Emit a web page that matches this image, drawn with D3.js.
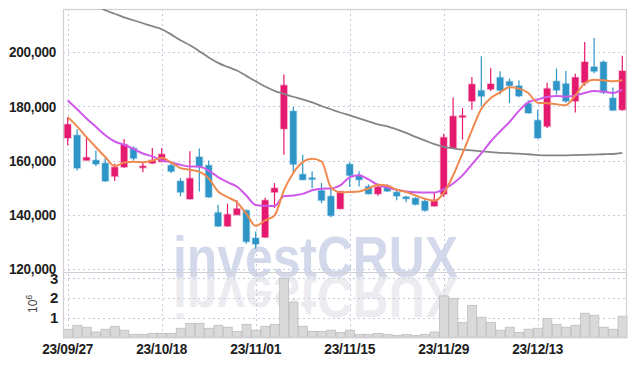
<!DOCTYPE html>
<html><head><meta charset="utf-8">
<script src="https://cdn.jsdelivr.net/npm/d3@7"></script>
<style>body{margin:0;background:#fff}svg{display:block}</style>
</head><body><svg id="c" width="636" height="366"></svg>
<script>
const dates = ["23/09/27","23/10/04","23/10/05","23/10/06","23/10/10","23/10/11","23/10/12","23/10/13","23/10/16","23/10/17","23/10/18","23/10/19","23/10/20","23/10/23","23/10/24","23/10/25","23/10/26","23/10/27","23/10/30","23/10/31","23/11/01","23/11/02","23/11/03","23/11/06","23/11/07","23/11/08","23/11/09","23/11/10","23/11/13","23/11/14","23/11/15","23/11/16","23/11/17","23/11/20","23/11/21","23/11/22","23/11/23","23/11/24","23/11/27","23/11/28","23/11/29","23/11/30","23/12/01","23/12/04","23/12/05","23/12/06","23/12/07","23/12/08","23/12/11","23/12/12","23/12/13","23/12/14","23/12/15","23/12/18","23/12/19","23/12/20","23/12/21","23/12/22","23/12/26","23/12/27"];
const openP = [168300,169300,160100,160100,159000,154200,157600,164500,157600,159000,159600,158200,152400,145800,161300,158200,140800,135800,140000,141600,131400,131700,148300,171700,178200,154900,153600,148900,146800,142200,158600,154500,150400,147700,150200,148300,146600,146100,145000,143200,147600,164600,176000,181900,185800,186300,190600,189100,187500,181000,174800,172600,189200,188300,181900,188700,194500,196300,183000,178700];
const highP = [175900,171500,168300,163700,161300,158800,167900,165200,159400,164600,164600,159700,153500,163400,164400,160000,143700,144100,145300,141900,133800,146300,151700,191700,179700,162100,156000,151700,149800,148800,159400,156000,151200,151400,151200,149000,146900,146400,145500,148300,169900,183200,179300,190800,198400,194100,192900,190200,189600,182200,178700,188700,193900,193000,192000,203700,205200,196900,186900,198600];
const lowP = [165600,156300,159900,157900,152200,152400,157200,160000,155700,158800,159400,155400,146800,145600,148600,146300,135500,135600,139800,129300,127500,131500,142500,162100,155700,152700,149800,144300,139100,142000,150200,150400,147500,147000,148500,145300,144600,143500,141200,143000,146500,164200,167700,178700,179900,185600,184300,181200,183300,177300,168000,172000,184300,181300,177700,187600,192200,184500,178300,178300];
const closeP = [173300,157200,161100,158700,152400,157500,165900,160800,157900,160100,162300,156000,148300,153400,157900,146500,135800,140100,142200,130100,129200,145300,149800,187700,158600,152900,153400,145300,139700,148600,154500,152900,147700,150200,148700,146900,145900,143800,141600,145300,168500,176300,176500,188100,183700,188200,185900,187600,183800,177500,168300,186500,185900,181900,190600,196300,192900,185100,178500,193000];
const volume = [410000,610000,510000,270000,410000,560000,360000,150000,150000,200000,200000,200000,460000,710000,710000,460000,610000,510000,300000,660000,360000,560000,660000,3000000,1780000,560000,300000,300000,360000,250000,360000,150000,150000,200000,150000,100000,150000,100000,150000,270000,2100000,1980000,760000,1620000,1020000,760000,360000,510000,250000,410000,460000,960000,660000,510000,610000,1220000,1120000,510000,410000,1070000];
const maShort = [176000,172600,168600,164900,161300,157900,159300,159500,159400,159900,161000,159300,157200,156600,155900,153400,148600,146500,144600,140400,135900,137900,139700,149000,155400,159400,160600,159700,150200,148300,148400,148600,149700,151100,150800,149200,148400,147100,145900,145200,148000,154500,162600,171100,179100,183000,185100,187000,186500,184900,181300,181100,180700,180400,184000,188500,189800,189600,189200,189600];
const maMid = [182200,178900,175500,172400,169300,167000,165800,164300,162600,161500,160100,159300,158400,157800,157700,156300,153900,152000,150400,147100,143600,143300,143200,146800,147100,147700,149000,149600,149700,150800,153800,154600,153000,151000,150000,149200,148600,148300,148200,148200,149400,151500,154500,158600,162600,167000,170700,174200,178300,181400,182500,183400,183800,183500,184000,184900,185600,185400,184900,186100];
const maLong = [221300,220000,218700,217200,215400,214100,212800,211700,210600,209500,208400,206500,204300,202500,200300,198000,196000,194500,193200,191200,189200,187300,185700,184600,183500,182500,181400,180100,178900,177700,176600,175500,174400,173300,172600,171500,170200,168700,167400,166000,165000,164500,164000,163700,163400,163100,162800,162700,162500,162300,162000,161900,161900,161900,162000,162100,162200,162300,162400,162800];
const priceTicks = [120000,140000,160000,180000,200000];
const volTicks = [1000000,2000000,3000000];
const dateLabels = ["23/09/27","23/10/18","23/11/01","23/11/15","23/11/29","23/12/13"];
const watermark = "investCRUX";

const L = 63, R = 627, T = 9, mainB = 271, volT = 272, volB = 337.3;
const FONT = "'Liberation Sans','Arial',sans-serif";
const UP = "#e5196e", DOWN = "#2e95c7";

const svg = d3.select("#c");
const x = d3.scaleBand().domain(dates).range([L, R]).padding(0);
const bw = x.bandwidth();
const cx = d => x(d) + bw / 2;
const y = d3.scaleLinear().domain([120000, 200000]).range([269, 52]);
const yv = d3.scaleLinear().domain([0, 3000000]).range([volB, 278.2]);

svg.append("defs").append("clipPath").attr("id", "mainClip")
  .append("rect").attr("x", L).attr("y", T).attr("width", R - L).attr("height", mainB - T);

// watermark + reflection
const wm = svg.append("g");
wm.append("text").attr("x", 173).attr("y", 277)
  .attr("font-family", FONT).attr("font-weight", "bold").attr("font-size", 58)
  .attr("textLength", 285).attr("lengthAdjust", "spacingAndGlyphs")
  .attr("fill", "#d3d8ea").text(watermark);
wm.append("text").attr("x", 173).attr("y", 277)
  .attr("transform", "translate(0,554) scale(1,-1)")
  .attr("font-family", FONT).attr("font-weight", "bold").attr("font-size", 58)
  .attr("textLength", 285).attr("lengthAdjust", "spacingAndGlyphs")
  .attr("fill", "#ebebf0").text(watermark);

// grid
const grid = svg.append("g").attr("stroke", "#c6cade").attr("stroke-dasharray", "2,3").attr("stroke-width", 1);
grid.selectAll(".hg").data(priceTicks).join("line")
  .attr("x1", L).attr("x2", R).attr("y1", d => Math.round(y(d)) + 0.5).attr("y2", d => Math.round(y(d)) + 0.5);
grid.selectAll(".vg").data(volTicks).join("line")
  .attr("x1", L).attr("x2", R).attr("y1", d => Math.round(yv(d)) + 0.5).attr("y2", d => Math.round(yv(d)) + 0.5);
grid.selectAll(".xg").data(dateLabels).join("line")
  .attr("x1", d => Math.round(cx(d)) + 0.5).attr("x2", d => Math.round(cx(d)) + 0.5)
  .attr("y1", T).attr("y2", volB);

// volume bars
svg.append("g").selectAll("rect").data(dates).join("rect")
  .attr("x", d => x(d) + 0.5).attr("width", bw - 0.5)
  .attr("y", (d, i) => yv(volume[i])).attr("height", (d, i) => volB - yv(volume[i]))
  .attr("fill", "#d9d9d9").attr("stroke", "#bdbdbd").attr("stroke-width", 0.8);

// frame
svg.append("rect").attr("x", L + 0.5).attr("y", T + 0.5).attr("width", R - L - 1).attr("height", volB - T)
  .attr("fill", "none").attr("stroke", "#cfcfd4").attr("stroke-width", 1.2);
svg.append("line").attr("x1", L).attr("x2", R).attr("y1", volT + 0.5).attr("y2", volT + 0.5)
  .attr("stroke", "#cfcfd4").attr("stroke-width", 1.2);

// candles
const main = svg.append("g").attr("clip-path", "url(#mainClip)");
const cg = main.append("g").selectAll("g").data(dates).join("g");
const col = i => closeP[i] >= openP[i] ? UP : DOWN;
cg.append("line")
  .attr("x1", d => cx(d)).attr("x2", d => cx(d))
  .attr("y1", (d, i) => y(highP[i])).attr("y2", (d, i) => y(lowP[i]))
  .attr("stroke", (d, i) => col(i)).attr("stroke-width", 1.2);
cg.append("rect")
  .attr("x", d => cx(d) - 3.2).attr("width", 6.4)
  .attr("y", (d, i) => Math.min(y(openP[i]), y(closeP[i])))
  .attr("height", (d, i) => Math.max(1.5, Math.abs(y(openP[i]) - y(closeP[i]))))
  .attr("fill", (d, i) => col(i)).attr("stroke", (d, i) => col(i))
  .attr("stroke-opacity", 0.3).attr("stroke-width", 1.6);

// moving averages
const lineGen = arr => d3.line().x(d => cx(d)).y((d, i) => y(arr[i])).curve(d3.curveMonotoneX)(dates);
main.append("path").attr("d", lineGen(maLong)).attr("fill", "none").attr("stroke", "#858585").attr("stroke-width", 1.8);
main.append("path").attr("d", lineGen(maMid)).attr("fill", "none").attr("stroke", "#cf57ea").attr("stroke-width", 2);
main.append("path").attr("d", lineGen(maShort)).attr("fill", "none").attr("stroke", "#ef8a4f").attr("stroke-width", 2);

// axes
const styleAxis = (g, len) => {
  g.select(".domain").remove();
  g.selectAll("line").remove();
  g.selectAll("text").attr("font-family", FONT).attr("font-weight", "bold")
    .attr("font-size", 15).attr("fill", "#1e1e1e").attr("letter-spacing", -0.3);
  if (len) g.selectAll("text").attr("textLength", len).attr("lengthAdjust", "spacingAndGlyphs");
};
svg.append("g").attr("transform", `translate(${L},0)`)
  .call(d3.axisLeft(y).tickValues(priceTicks).tickFormat(d3.format(",")).tickSize(0).tickPadding(7))
  .call(g => styleAxis(g, 47));
svg.append("g").attr("transform", `translate(${L},0)`)
  .call(d3.axisLeft(yv).tickValues(volTicks).tickFormat(d => d / 1e6).tickSize(0).tickPadding(5))
  .call(g => styleAxis(g, 0));
svg.append("g").attr("transform", `translate(0,${volB})`)
  .call(d3.axisBottom(x).tickValues(dateLabels).tickSize(0).tickPadding(6))
  .call(g => styleAxis(g, 51));

// volume unit
const ut = svg.append("text").attr("transform", "translate(37,313) rotate(-90)")
  .attr("font-family", FONT).attr("font-size", 12).attr("fill", "#444");
ut.append("tspan").text("10");
ut.append("tspan").attr("font-size", 9).attr("dy", -5).text("6");
</script></body></html>
